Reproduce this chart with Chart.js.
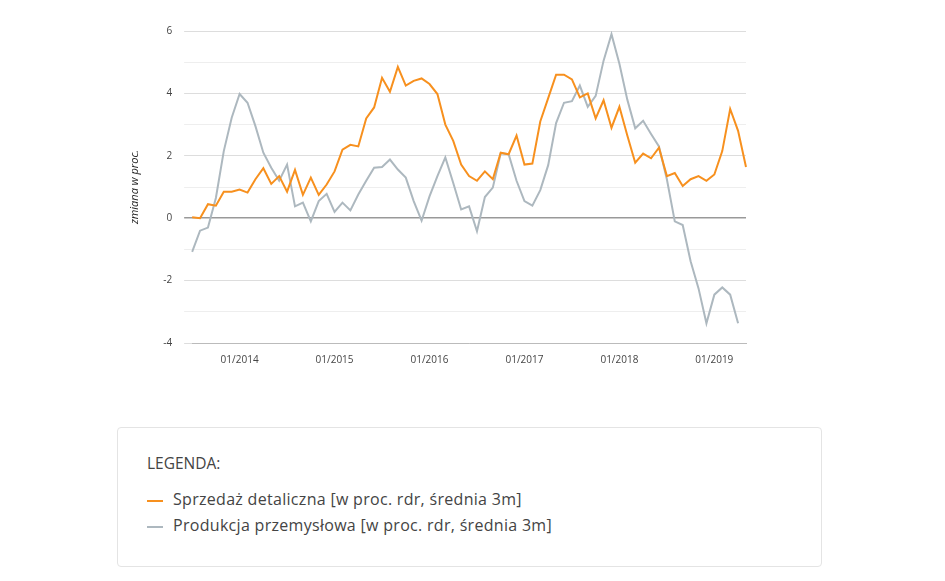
<!DOCTYPE html>
<html><head><meta charset="utf-8">
<script src="https://cdn.jsdelivr.net/npm/chart.js@4"></script>
<style>
body{margin:0;background:#fff;font-family:"Open Sans",sans-serif;}
#wrap{position:absolute;left:124px;top:13px;width:626px;height:356px;}
#leg{position:absolute;left:117px;top:427px;width:705px;height:140px;border:1px solid #e4e4e4;border-radius:4px;box-sizing:border-box;color:#444;}
#leg .t{position:absolute;left:29px;top:24px;font-size:15.5px;}
.it{position:absolute;left:29px;font-size:16px;letter-spacing:0.3px;}
.it span{display:inline-block;width:16px;height:2px;vertical-align:middle;margin-right:10px;}
</style></head><body>
<div id="wrap"><canvas id="c"></canvas></div>
<div id="leg"><div class="t">LEGENDA:</div>
<div class="it" style="top:60px"><span style="background:#f7901e"></span>Sprzedaż detaliczna [w proc. rdr, średnia 3m]</div>
<div class="it" style="top:86px"><span style="background:#adb8bf"></span>Produkcja przemysłowa [w proc. rdr, średnia 3m]</div>
</div>
<script>
const startYear=2013, startMonth=7;
const retail=[0.03,0,0.45,0.4,0.85,0.85,0.92,0.82,1.25,1.6,1.1,1.35,0.85,1.55,0.75,1.3,0.75,1.08,1.5,2.2,2.35,2.3,3.2,3.55,4.5,4.05,4.85,4.25,4.4,4.48,4.3,3.98,3.0,2.48,1.72,1.35,1.2,1.5,1.25,2.1,2.05,2.65,1.72,1.75,3.1,3.85,4.6,4.6,4.45,3.87,4.0,3.2,3.78,2.9,3.57,2.65,1.78,2.07,1.92,2.26,1.35,1.45,1.03,1.25,1.35,1.2,1.4,2.15,3.5,2.8,1.64,1.7];
const industry=[-1.08,-0.4,-0.3,0.65,2.15,3.22,3.98,3.7,2.95,2.1,1.62,1.2,1.72,0.38,0.5,-0.1,0.55,0.78,0.2,0.5,0.25,0.76,1.2,1.62,1.64,1.88,1.56,1.3,0.55,-0.08,0.7,1.35,1.95,1.13,0.28,0.38,-0.42,0.68,0.98,2.08,2.05,1.2,0.55,0.4,0.9,1.7,3.05,3.7,3.75,4.25,3.57,3.92,5.05,5.9,4.95,3.8,2.88,3.12,2.7,2.3,1.25,-0.1,-0.22,-1.38,-2.25,-3.37,-2.45,-2.22,-2.45,-3.37];
retail.length=71;
const labels=[];
for(let i=0;i<71;i++){const m=(startMonth-1+i)%12+1,y=startYear+Math.floor((startMonth-1+i)/12);labels.push(String(m).padStart(2,'0')+'/'+y);}
const yTicks=[-4,-2,0,2,4,6];
new Chart(document.getElementById('c'),{type:'line',
data:{labels,datasets:[
{data:retail,borderColor:'#f7901e',borderWidth:2,pointRadius:0,tension:0},
{data:industry,borderColor:'#adb8bf',borderWidth:2,pointRadius:0,tension:0}]},
options:{responsive:true,maintainAspectRatio:false,animation:false,
plugins:{legend:{display:false},tooltip:{enabled:false}},
layout:{padding:{right:4}},
scales:{
x:{offset:false,grid:{display:false},border:{color:'#bbb'},
ticks:{autoSkip:false,maxRotation:0,color:'#444',font:{size:10,family:'Open Sans'},
callback:(v,i)=>labels[i].startsWith('01/')?labels[i]:null}},
y:{min:-4,max:6,border:{display:false},
grid:{color:c=>c.tick.value===0?'#999':(c.tick.value%2===0?'#ddd':'#eee'),lineWidth:c=>c.tick.value===0?1.5:1},
ticks:{stepSize:1,color:'#444',padding:12,font:{size:10,family:'Open Sans'},callback:v=>yTicks.includes(v)?v:''},
title:{display:true,text:'zmiana w proc.',color:'#222',font:{size:11,style:'italic',family:'Open Sans'},padding:{bottom:10}}}
}}});
</script></body></html>
